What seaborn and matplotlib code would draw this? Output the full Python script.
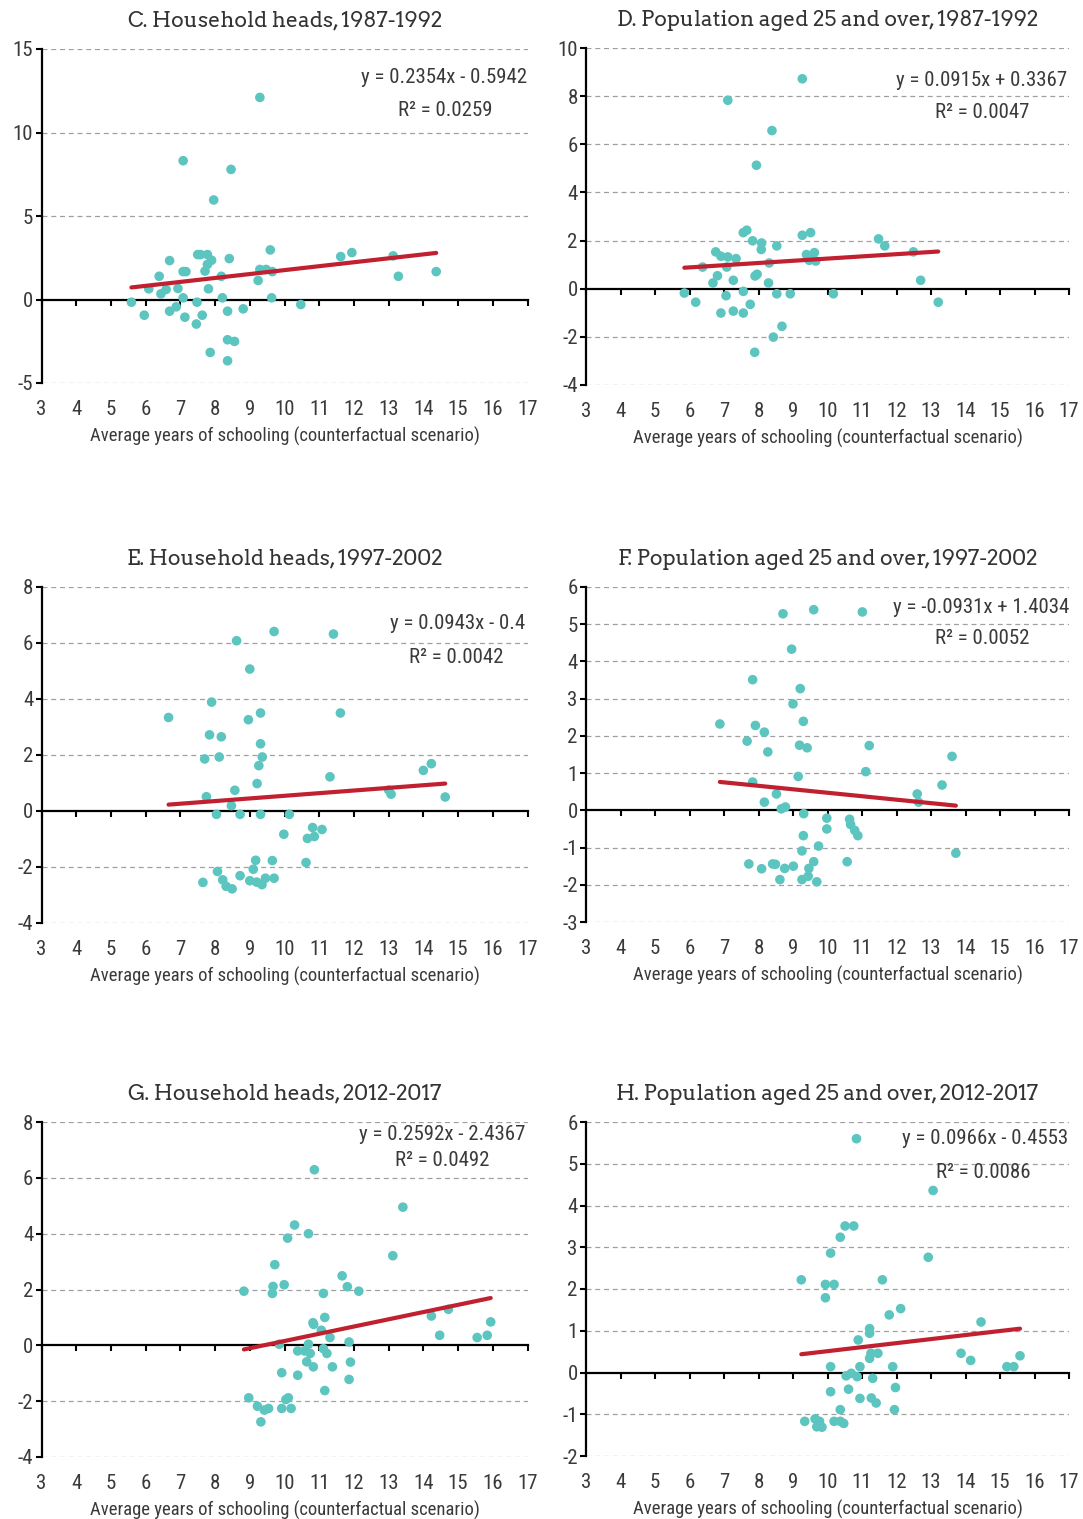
import matplotlib
matplotlib.use("Agg")
import matplotlib.pyplot as plt
from matplotlib import font_manager as fm
import seaborn as sns
import pandas as pd

# C. Household heads, 1987-1992
c_x = [9.29, 7.08, 8.46, 7.96, 9.59, 7.50, 7.58, 7.78, 6.69, 8.41, 7.90, 7.78, 7.71, 7.08, 7.16,
       6.39, 8.18, 9.29, 9.47, 9.65, 9.24, 11.62, 11.94, 13.13, 13.28, 14.37, 6.09, 6.44, 6.59,
       6.93, 7.81, 5.59, 7.08, 7.48, 8.21, 9.63, 10.47, 5.96, 6.69, 6.88, 7.13, 7.63, 7.46, 8.36,
       8.81, 8.36, 8.56, 7.86, 8.36]
c_y = [12.1, 8.31, 7.79, 5.96, 2.97, 2.69, 2.69, 2.69, 2.33, 2.45, 2.35, 2.10, 1.70, 1.67, 1.67,
       1.39, 1.39, 1.80, 1.80, 1.67, 1.14, 2.57, 2.81, 2.61, 1.39, 1.67, 0.64, 0.34, 0.60,
       0.66, 0.64, -0.16, 0.10, -0.16, 0.10, 0.10, -0.30, -0.94, -0.70, -0.44, -1.06, -0.94, -1.47, -0.70,
       -0.56, -2.41, -2.51, -3.17, -3.67]

# D. Population aged 25 and over, 1987-1992
d_x = [9.27, 7.11, 8.39, 7.94, 7.56, 7.66, 9.27, 9.51, 7.83, 8.09, 8.08, 8.53, 11.48, 11.66, 12.49,
       6.76, 6.91, 7.11, 7.35, 6.38, 7.08, 8.31, 9.39, 9.62, 9.47, 9.66, 6.81, 6.68, 7.27, 7.90,
       7.96, 8.29, 12.70, 5.85, 6.18, 7.06, 7.56, 7.76, 8.53, 8.92, 10.17, 13.21, 6.91, 7.27, 7.56,
       8.68, 8.43, 7.89]
d_y = [8.72, 7.83, 6.57, 5.13, 2.33, 2.43, 2.22, 2.33, 1.99, 1.90, 1.63, 1.78, 2.07, 1.78, 1.53,
       1.53, 1.35, 1.32, 1.25, 0.90, 0.90, 1.07, 1.42, 1.50, 1.18, 1.15, 0.54, 0.24, 0.35, 0.53,
       0.60, 0.24, 0.35, -0.18, -0.56, -0.29, -0.11, -0.65, -0.21, -0.21, -0.21, -0.56, -1.01, -0.93, -1.01,
       -1.56, -2.01, -2.64]

# E. Household heads, 1997-2002
e_x = [9.70, 8.62, 11.41, 9.00, 7.90, 6.66, 8.96, 9.31, 11.61, 7.84, 8.18, 9.31, 7.70, 8.12, 9.36,
       9.26, 11.31, 14.00, 14.23, 9.21, 8.57, 7.75, 13.00, 13.07, 14.63, 8.47, 8.04, 8.72, 9.31,
       10.14, 9.98, 10.66, 10.86, 10.81, 11.08, 10.62, 9.65, 9.17, 9.10, 8.07, 7.65, 8.22, 8.32,
       8.49, 8.72, 9.00, 9.20, 9.35, 9.45, 9.70]
e_y = [6.41, 6.08, 6.32, 5.07, 3.89, 3.34, 3.26, 3.50, 3.50, 2.72, 2.65, 2.40, 1.86, 1.93, 1.93,
       1.62, 1.22, 1.45, 1.69, 0.98, 0.74, 0.51, 0.75, 0.60, 0.50, 0.19, -0.12, -0.12, -0.12,
       -0.12, -0.83, -0.98, -0.91, -0.59, -0.66, -1.84, -1.77, -1.76, -2.08, -2.16, -2.55, -2.46, -2.69,
       -2.78, -2.31, -2.49, -2.54, -2.63, -2.40, -2.40]

# F. Population aged 25 and over, 1997-2002
f_x = [8.71, 9.60, 11.01, 8.96, 7.83, 9.21, 9.00, 9.30, 6.88, 7.91, 8.17, 7.67, 8.27, 9.19, 9.41,
       11.21, 13.61, 11.11, 9.15, 13.32, 7.83, 8.52, 8.17, 8.66, 8.78, 12.60, 12.64, 9.31, 9.98,
       9.98, 10.64, 10.67, 10.79, 10.88, 9.30, 9.74, 9.26, 10.57, 9.60, 13.72, 7.72, 8.09, 8.41,
       8.49, 8.76, 9.01, 9.46, 9.44, 9.26, 8.62, 9.69]
f_y = [5.28, 5.39, 5.33, 4.33, 3.51, 3.27, 2.86, 2.39, 2.32, 2.28, 2.10, 1.86, 1.57, 1.75, 1.68,
       1.74, 1.45, 1.04, 0.91, 0.68, 0.76, 0.44, 0.22, 0.04, 0.09, 0.44, 0.22, -0.09, -0.21,
       -0.50, -0.24, -0.38, -0.54, -0.68, -0.68, -0.96, -1.09, -1.38, -1.38, -1.15, -1.44, -1.57, -1.44,
       -1.45, -1.56, -1.50, -1.56, -1.77, -1.86, -1.86, -1.92]

# G. Household heads, 2012-2017
g_x = [10.86, 13.41, 10.29, 10.69, 10.09, 13.12, 9.72, 11.66, 9.67, 9.65, 9.99, 8.83, 11.81, 12.14,
       11.12, 11.16, 10.82, 10.84, 14.72, 14.23, 11.06, 11.31, 14.47, 15.55, 15.84, 15.94, 9.85,
       10.69, 11.86, 10.38, 10.58, 10.74, 11.12, 11.22, 10.64, 10.83, 11.38, 11.90, 9.92, 10.38,
       11.86, 11.16, 8.97, 9.22, 9.42, 9.54, 9.92, 10.04, 10.11, 10.19, 9.32]
g_y = [6.29, 4.95, 4.31, 4.00, 3.84, 3.21, 2.89, 2.49, 2.11, 1.86, 2.17, 1.94, 2.10, 1.94,
       1.86, 1.00, 0.81, 0.75, 1.29, 1.05, 0.54, 0.28, 0.36, 0.28, 0.36, 0.84, 0.04,
       0.04, 0.12, -0.20, -0.20, -0.29, -0.12, -0.29, -0.59, -0.77, -0.77, -0.60, -0.98, -1.07,
       -1.22, -1.62, -1.88, -2.18, -2.32, -2.26, -2.26, -1.94, -1.88, -2.26, -2.74]

# H. Population aged 25 and over, 2012-2017
h_x = [10.84, 13.06, 10.51, 10.76, 10.37, 10.09, 12.92, 9.24, 9.94, 10.19, 9.94, 11.59, 12.12, 11.79,
       14.45, 11.22, 11.22, 10.89, 11.26, 11.46, 11.22, 13.87, 14.15, 15.58, 15.20, 15.40, 10.09,
       10.94, 11.89, 10.54, 10.69, 10.86, 11.31, 11.97, 10.09, 10.61, 10.94, 11.27, 11.41, 11.94,
       10.37, 9.34, 9.64, 9.77, 9.69, 9.84, 10.19, 10.37, 10.47]
h_y = [5.60, 4.36, 3.51, 3.51, 3.24, 2.86, 2.76, 2.22, 2.11, 2.11, 1.79, 2.22, 1.53, 1.38,
       1.21, 1.05, 0.94, 0.78, 0.46, 0.46, 0.34, 0.46, 0.29, 0.40, 0.14, 0.14, 0.14,
       0.14, 0.14, -0.08, -0.02, -0.10, -0.14, -0.36, -0.46, -0.40, -0.62, -0.61, -0.73, -0.89,
       -0.89, -1.17, -1.11, -1.17, -1.30, -1.31, -1.17, -1.17, -1.22]

titles = ["C. Household heads, 1987-1992", "D. Population aged 25 and over, 1987-1992",
          "E. Household heads, 1997-2002", "F. Population aged 25 and over, 1997-2002",
          "G. Household heads, 2012-2017", "H. Population aged 25 and over, 2012-2017"]
slopes = [0.2354, 0.0915, 0.0943, -0.0931, 0.2592, 0.0966]
intercepts = [-0.5942, 0.3367, -0.4, 1.4034, -2.4367, -0.4553]
eq_labels = ["y = 0.2354x - 0.5942", "y = 0.0915x + 0.3367", "y = 0.0943x - 0.4",
             "y = -0.0931x + 1.4034", "y = 0.2592x - 2.4367", "y = 0.0966x - 0.4553"]
r2_labels = ["R² = 0.0259", "R² = 0.0047", "R² = 0.0042", "R² = 0.0052", "R² = 0.0492", "R² = 0.0086"]
y_ranges = [(-5, 15, 5), (-4, 10, 2), (-4, 8, 2), (-3, 6, 1), (-4, 8, 2), (-2, 6, 1)]
x_ticks = list(range(3, 18))
xlabel = "Average years of schooling (counterfactual scenario)"

xs = [c_x, d_x, e_x, f_x, g_x, h_x]
ys = [c_y, d_y, e_y, f_y, g_y, h_y]


def pick(cands, default):
    # regular-weight file of the first family that is installed
    for c in cands:
        for f in fm.fontManager.ttflist:
            if f.name == c and f.weight in (400, "normal", "regular") and f.style == "normal":
                return fm.FontProperties(fname=f.fname)
    return fm.FontProperties(family=default)


sans_fp = pick(["Roboto Condensed", "Archivo Narrow", "PT Sans Narrow", "Liberation Sans Narrow"],
               "Liberation Sans")
slab_fp = pick(["Roboto Slab", "Bitter", "Arvo", "Noto Serif"], "DejaVu Serif")
sans = sans_fp.get_name()

sns.set_style("white")
plt.rcParams["font.family"] = [sans, "DejaVu Sans"]
plt.rcParams["axes.unicode_minus"] = False

TEXT = "#3a3a3a"
DOT = "#5cc5bf"
LINE = "#c0202f"
FS = 15

W, H = 1083, 1519
fig = plt.figure(figsize=(W / 100, H / 100), dpi=100)

# axes boxes in pixels: left, top, right, bottom
boxes = [(41.5, 49, 527.5, 383), (586, 48, 1069, 385),
         (41.5, 587, 527.5, 923), (586, 587, 1069, 922),
         (41.5, 1122, 527.5, 1457), (586, 1122, 1069, 1456)]
# equation text positions (axes coords): eq right x, eq y, r2 center x, r2 y
eq_pos = [(1.0, 0.916, 0.83, 0.817), (0.996, 0.905, 0.82, 0.81),
          (0.995, 0.89, 0.854, 0.79), (1.0, 0.94, 0.82, 0.845),
          (0.996, 0.964, 0.825, 0.884), (0.999, 0.952, 0.823, 0.85)]

axes = []
for i in range(6):
    l, t, r, b = boxes[i]
    ax = fig.add_axes([l / W, 1 - b / H, (r - l) / W, (b - t) / H])
    df = pd.DataFrame({"x": xs[i], "y": ys[i]})
    ymin, ymax, ystep = y_ranges[i]

    # dashed gridlines
    for yv in range(ymin, ymax + 1, ystep):
        if yv != 0:
            ax.axhline(yv, color="#a0a0a0", lw=0.9, ls=(0, (4, 3)), zorder=0)

    sns.scatterplot(data=df, x="x", y="y", ax=ax, color=DOT, s=48, edgecolor="none",
                    zorder=3, legend=False)
    xfit = [min(xs[i]), max(xs[i])]
    yfit = [slopes[i] * v + intercepts[i] for v in xfit]
    sns.lineplot(x=xfit, y=yfit, ax=ax, color=LINE, lw=3, zorder=4)

    ax.set_xlim(3, 17)
    ax.set_ylim(ymin, ymax)
    ax.set_yticks(range(ymin, ymax + 1, ystep))
    ax.set_xticks(x_ticks)

    for s in ["top", "right"]:
        ax.spines[s].set_visible(False)
    ax.spines["left"].set_color("black")
    ax.spines["left"].set_linewidth(1.6)
    ax.spines["bottom"].set_position(("data", 0))
    ax.spines["bottom"].set_color("black")
    ax.spines["bottom"].set_linewidth(1.6)
    ax.tick_params(axis="x", direction="out", length=4, width=1.5, color="black",
                   labelbottom=False, bottom=True)
    ax.tick_params(axis="y", direction="out", length=4, width=1.5, color="black",
                   labelsize=FS, labelcolor=TEXT, pad=2, left=True)
    ax.set_xlabel("")
    ax.set_ylabel("")

    sec = ax.secondary_xaxis("bottom")
    sec.set_xticks(x_ticks)
    sec.tick_params(length=0, labelsize=FS, labelcolor=TEXT, pad=12)
    sec.spines["bottom"].set_visible(False)
    sec.set_xlabel(xlabel, fontsize=13.4, color=TEXT, labelpad=6)

    tfp = slab_fp.copy()
    tfp.set_size(14)
    ax.set_title(titles[i], fontproperties=tfp, color="#333333", pad=16)

    ex, ey, rx, ry = eq_pos[i]
    ax.text(ex, ey, eq_labels[i], transform=ax.transAxes, ha="right", va="center",
            fontsize=FS, color=TEXT)
    ax.text(rx, ry, r2_labels[i], transform=ax.transAxes, ha="center", va="center",
            fontsize=FS, color=TEXT)
    axes.append(ax)

# size the titles so panel C's title is as wide as in the source (~316 px)
fig.canvas.draw()
rend = fig.canvas.get_renderer()
wc = axes[0].title.get_window_extent(rend).width
tsize = 14 * 316 / wc
for ax in axes:
    ax.title.set_fontsize(tsize)

fig.savefig("out.png", dpi=100, facecolor="white")
